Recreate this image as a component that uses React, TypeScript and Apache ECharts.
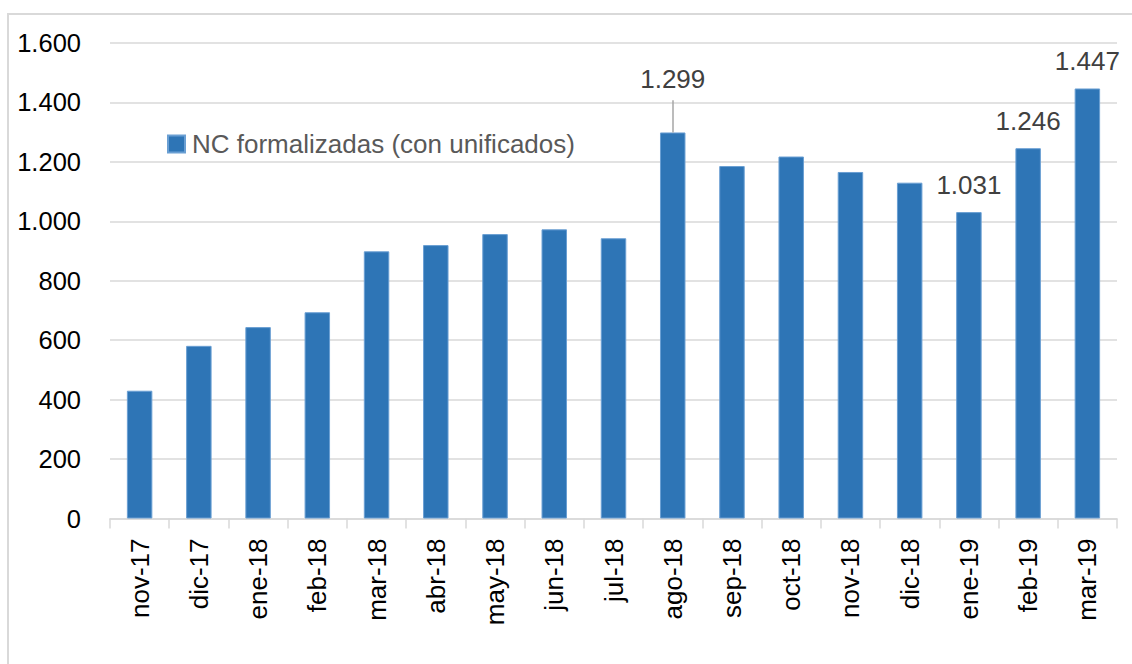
import React, { useEffect, useRef } from "react";
import * as echarts from "echarts";

const categories = ["nov-17", "dic-17", "ene-18", "feb-18", "mar-18", "abr-18", "may-18", "jun-18", "jul-18", "ago-18", "sep-18", "oct-18", "nov-18", "dic-18", "ene-19", "feb-19", "mar-19"];
const values = [430, 581, 644, 694, 899, 920, 957, 973, 943, 1299, 1186, 1218, 1166, 1130, 1031, 1246, 1447];
const labelledIndices = [9, 14, 15, 16];
const seriesName = "NC formalizadas (con unificados)";

const fmt = (v: number) => {
  const s = String(Math.round(v));
  return s.replace(/\B(?=(\d{3})+(?!\d))/g, ".");
};

export default function App() {
  const ref = useRef<HTMLDivElement>(null);
  useEffect(() => {
    if (!ref.current) return;
    const chart = echarts.init(ref.current, null, { renderer: "svg" });
    const data = values.map((v, i) => {
      if (!labelledIndices.includes(i)) return v;
      return {
        value: v,
        label: {
          show: true,
          position: "top",
          distance: i === 9 ? 40 : 14,
          formatter: (p: any) => fmt(p.value),
          color: "#404040",
          fontSize: 26,
          fontFamily: "Liberation Sans",
        },
      };
    });
    chart.setOption({
      animation: false,
      backgroundColor: "#ffffff",
      textStyle: { fontFamily: "Liberation Sans" },
      graphic: [
        {
          type: "rect",
          shape: { x: 8, y: 14, width: 1140, height: 670 },
          style: { fill: "none", stroke: "#d9d9d9", lineWidth: 2 },
          silent: true,
        },
      ],
      legend: {
        show: true,
        left: 167,
        top: 131,
        padding: 0,
        itemWidth: 17,
        itemHeight: 17,
        itemGap: 10,
        icon: "rect",
        textStyle: { color: "#595959", fontSize: 26, fontFamily: "Liberation Sans", padding: [0, 0, 0, 2] },
        data: [seriesName],
      },
      grid: { left: 110, right: 15, top: 43, bottom: 145.5, containLabel: false },
      xAxis: {
        type: "category",
        data: categories,
        boundaryGap: true,
        axisLine: { show: true, lineStyle: { color: "#d9d9d9", width: 1.5 } },
        axisTick: { show: true, length: 10, alignWithLabel: false, lineStyle: { color: "#d9d9d9", width: 1.5 } },
        axisLabel: { rotate: 90, margin: 20, color: "#000000", fontSize: 26, fontFamily: "Liberation Sans", interval: 0 },
      },
      yAxis: {
        type: "value",
        min: 0,
        max: 1600,
        interval: 200,
        axisLine: { show: false },
        axisTick: { show: false },
        splitLine: { show: true, lineStyle: { color: "#d9d9d9", width: 1.5 } },
        axisLabel: { margin: 29, color: "#000000", fontSize: 25.5, fontFamily: "Liberation Sans", formatter: (v: number) => fmt(v) },
      },
      series: [
        {
          name: seriesName,
          type: "bar",
          data,
          barWidth: "43%",
          itemStyle: { color: "#2e75b6", borderColor: "#6a9fd3", borderWidth: 1 },
          markLine: {
            silent: true,
            symbol: "none",
            label: { show: false },
            lineStyle: { color: "#a6a6a6", width: 1.5, type: "solid" },
            data: [[{ coord: [categories[9], values[9]] }, { coord: [categories[9], values[9] + 108] }]],
          },
        },
      ],
    });
    return () => chart.dispose();
  }, []);
  return <div ref={ref} style={{ position: "fixed", left: 0, top: 0, width: 1132, height: 664 }} />;
}
